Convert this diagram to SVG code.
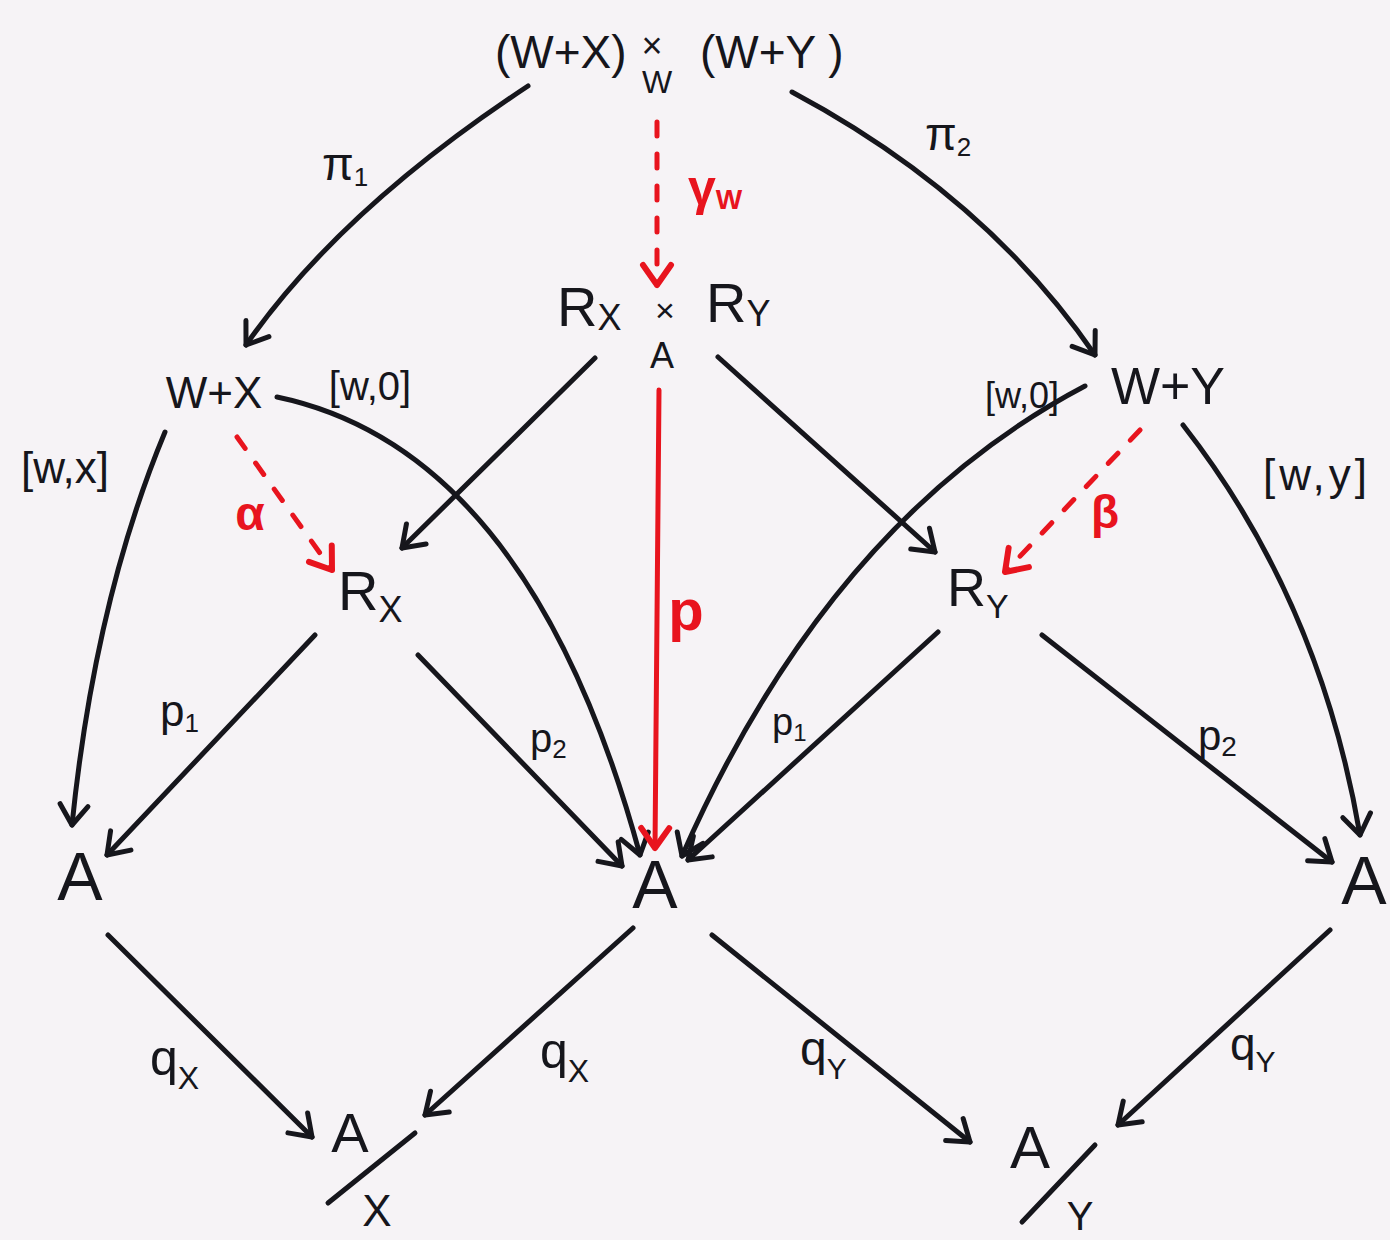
<svg xmlns="http://www.w3.org/2000/svg" width="1390" height="1240" viewBox="0 0 1390 1240">
<style>
text{font-family:"Liberation Sans","DejaVu Sans",sans-serif;fill:#16161c}
.r{fill:#e8141e}
.c{stroke:#16161c;stroke-width:5;fill:none;stroke-linecap:round}
.cr{stroke:#e8141e;stroke-width:5;fill:none;stroke-linecap:round}
.d{stroke-dasharray:14 18}
</style>
<defs>
<marker id="ah" viewBox="-30 -20 40 40" refX="0" refY="0" markerWidth="40" markerHeight="40" markerUnits="userSpaceOnUse" orient="auto">
<path d="M-20,-14 L0,0 L-20,14" fill="none" stroke="#16161c" stroke-width="5" stroke-linecap="round" stroke-linejoin="round"/>
</marker>
<marker id="ahr" viewBox="-30 -20 40 40" refX="0" refY="0" markerWidth="40" markerHeight="40" markerUnits="userSpaceOnUse" orient="auto">
<path d="M-20,-14 L0,0 L-20,14" fill="none" stroke="#e8141e" stroke-width="6" stroke-linecap="round" stroke-linejoin="round"/>
</marker>
</defs>
<rect width="1390" height="1240" fill="#f6f3f6"/>

<g id="connectors">
<path class="c" d="M528,86 Q340,210 246,345" marker-end="url(#ah)"/>
<path class="c" d="M792,92 Q985,195 1095,355" marker-end="url(#ah)"/>
<path class="cr d" d="M657,122 L657,285" marker-end="url(#ahr)"/>
<path class="c" d="M165,432 Q95,600 72,825" marker-end="url(#ah)"/>
<path class="cr d" d="M237,437 L332,570" marker-end="url(#ahr)"/>
<path class="c" d="M277,397 Q530,450 640,855" marker-end="url(#ah)"/>
<path class="c" d="M595,358 L402,548" marker-end="url(#ah)"/>
<path class="c" d="M718,357 L935,552" marker-end="url(#ah)"/>
<path class="cr" d="M659,390 L655,848" marker-end="url(#ahr)"/>
<path class="c" d="M1085,386 Q830,520 682,856" marker-end="url(#ah)"/>
<path class="cr d" d="M1140,430 L1005,572" marker-end="url(#ahr)"/>
<path class="c" d="M1183,425 Q1320,600 1360,835" marker-end="url(#ah)"/>
<path class="c" d="M315,635 L107,855" marker-end="url(#ah)"/>
<path class="c" d="M418,655 L622,866" marker-end="url(#ah)"/>
<path class="c" d="M938,632 L688,860" marker-end="url(#ah)"/>
<path class="c" d="M1042,635 L1332,862" marker-end="url(#ah)"/>
<path class="c" d="M108,935 L312,1137" marker-end="url(#ah)"/>
<path class="c" d="M633,928 L425,1115" marker-end="url(#ah)"/>
<path class="c" d="M712,935 L970,1142" marker-end="url(#ah)"/>
<path class="c" d="M1330,930 L1118,1125" marker-end="url(#ah)"/>
</g>

<g id="labels">
<text x="322" y="180" font-size="46">π<tspan font-size="26" dy="6">1</tspan></text>
<text x="925" y="150" font-size="46">π<tspan font-size="26" dy="6">2</tspan></text>
<text class="r" x="688" y="205" font-size="50" font-weight="bold">γ<tspan font-size="28" dy="4">W</tspan></text>
<text x="370" y="400" font-size="40" text-anchor="middle">[w,0]</text>
<text x="1022" y="408" font-size="36" text-anchor="middle">[w,0]</text>
<text x="65" y="483" font-size="44" text-anchor="middle">[w,x]</text>
<text x="1317" y="490" font-size="44" text-anchor="middle" letter-spacing="4">[w,y]</text>
<text class="r" x="250" y="530" font-size="48" font-weight="bold" text-anchor="middle">α</text>
<text class="r" x="1105" y="528" font-size="46" font-weight="bold" text-anchor="middle">β</text>
<text class="r" x="686" y="630" font-size="58" font-weight="bold" text-anchor="middle">p</text>
<text x="160" y="726" font-size="44">p<tspan font-size="26" dy="6">1</tspan></text>
<text x="530" y="752" font-size="40">p<tspan font-size="26" dy="6">2</tspan></text>
<text x="772" y="735" font-size="38">p<tspan font-size="24" dy="6">1</tspan></text>
<text x="1198" y="750" font-size="42">p<tspan font-size="28" dy="6">2</tspan></text>
<text x="150" y="1075" font-size="50">q<tspan font-size="32" dy="14">X</tspan></text>
<text x="540" y="1068" font-size="50">q<tspan font-size="32" dy="14">X</tspan></text>
<text x="800" y="1065" font-size="48">q<tspan font-size="30" dy="14">Y</tspan></text>
<text x="1230" y="1060" font-size="46">q<tspan font-size="30" dy="12">Y</tspan></text>
</g>

<g id="n_top">
<text x="495" y="68" font-size="46">(W+X)</text>
<text x="652" y="58" font-size="36" text-anchor="middle">×</text>
<text x="657" y="93" font-size="32" text-anchor="middle">W</text>
<text x="700" y="68" font-size="46">(W+Y )</text>
</g>
<g id="n_RxAR">
<text x="557" y="326" font-size="56">R<tspan font-size="36" dy="4">X</tspan></text>
<text x="665" y="322" font-size="34" text-anchor="middle">×</text>
<text x="662" y="368" font-size="36" text-anchor="middle">A</text>
<text x="706" y="322" font-size="56">R<tspan font-size="36" dy="4">Y</tspan></text>
</g>
<g id="n_WX"><text x="214" y="408" font-size="44" text-anchor="middle">W+X</text></g>
<g id="n_WY"><text x="1168" y="404" font-size="52" text-anchor="middle">W+Y</text></g>
<g id="n_RX"><text x="338" y="610" font-size="56">R<tspan font-size="36" dy="12">X</tspan></text></g>
<g id="n_RY"><text x="947" y="606" font-size="54">R<tspan font-size="34" dy="12">Y</tspan></text></g>
<g id="n_A1"><text x="80" y="900" font-size="68" text-anchor="middle">A</text></g>
<g id="n_A2"><text x="655" y="908" font-size="68" text-anchor="middle">A</text></g>
<g id="n_A3"><text x="1364" y="904" font-size="68" text-anchor="middle">A</text></g>
<g id="n_AX">
<text x="350" y="1152" font-size="56" text-anchor="middle">A</text>
<path class="c" d="M328,1203 L415,1133"/>
<text x="377" y="1226" font-size="44" text-anchor="middle">X</text>
</g>
<g id="n_AY">
<text x="1030" y="1168" font-size="60" text-anchor="middle">A</text>
<path class="c" d="M1022,1222 L1095,1145"/>
<text x="1080" y="1230" font-size="40" text-anchor="middle">Y</text>
</g>
</svg>
